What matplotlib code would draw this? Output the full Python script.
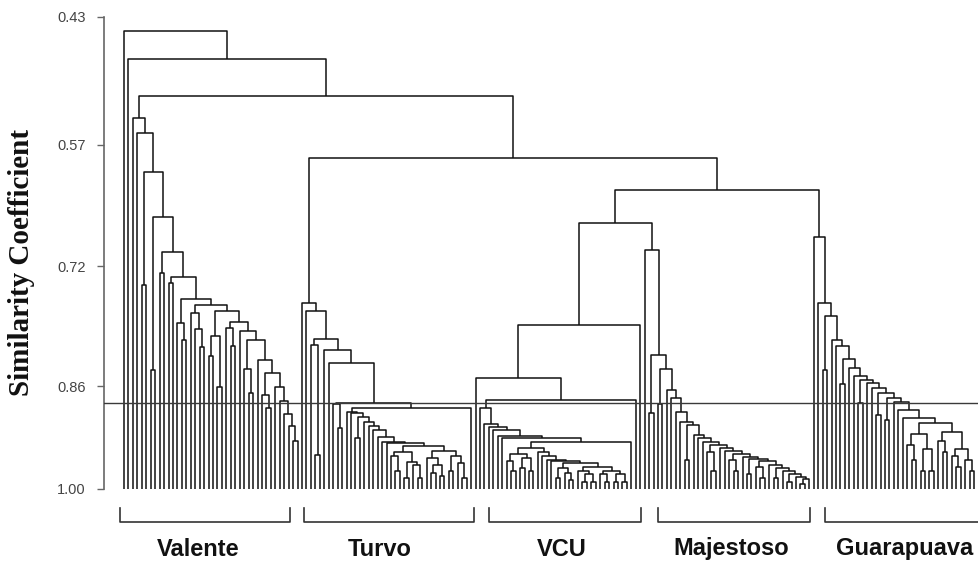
import numpy as np
import matplotlib
matplotlib.use("Agg")
import matplotlib.pyplot as plt
from matplotlib.collections import LineCollection

# ---------------- data ----------------
# Cluster notation ("comb"): a list of (merge_similarity, left_member) tuples
# followed by a final member; each tuple's member joins everything to its right.
# member: 0 = single genotype (leaf), float = two genotypes joined at that
# similarity, list = a sub-cluster written the same way.
VALENTE = [
    (0.540, 0), (0.557, 0), (0.603, 0.742), (0.659, 0.841), (0.703, 0.728),
    (0.733, 0.740),
    (0.758, [(0.787, 0), 0.806]),
    (0.765, [(0.775, 0), (0.794, 0), 0.815]),
    (0.772, [(0.802, 0.825), 0.861]),
    (0.785, [(0.792, 0), 0.813]),
    (0.796, 0),
    (0.806, [(0.840, 0), 0.870]),
    (0.830, 0),
    (0.845, [(0.872, 0), 0.890]),
    (0.862, 0), (0.880, 0), (0.898, 0), (0.915, 0), (0.935, 0),
    0,
]

TURVO_LOW = [
    (0.895, 0), (0.897, 0), (0.902, 0.930), (0.909, 0), (0.914, 0),
    (0.920, 0), (0.929, 0), (0.936, 0), (0.938, 0),
    (0.941, [(0.950, [(0.955, 0), 0.975]), (0.963, 0.985), (0.968, 0), 0.985]),
    [(0.948, [(0.958, 0), (0.968, 0.978), 0.983]), (0.955, 0.975), (0.965, 0), 0.985],
]

TURVO = [
    (0.763, 0), (0.772, 0),
    (0.805, [(0.812, 0), 0.954]),
    (0.818, 0), (0.833, 0),
    (0.883, [(0.885, 0), 0.917]),
    [(0.890, TURVO_LOW), 0],
]

VCU_LOW = [
    (0.944, [(0.952, [(0.962, 0), 0.975]), (0.958, 0.972), 0.975]),
    (0.950, 0), (0.955, 0), (0.960, 0), (0.962, 0),
    (0.965, [(0.972, 0.985), (0.978, 0), 0.988]),
    [(0.970, [(0.975, 0), (0.980, 0.990), 0.990]), (0.975, [(0.980, 0), 0.990]),
     (0.980, 0.990), 0.990],
]

VCU_MAIN = [(0.890, 0), (0.912, 0), (0.916, 0), (0.920, 0), (0.928, 0),
            (0.931, 0), (0.936, VCU_LOW), 0]

VCU = [(0.789, [(0.851, 0), (0.879, VCU_MAIN), 0]), 0]

MAJESTOSO = [
    (0.824, 0.897), (0.840, 0.885), (0.865, 0), (0.876, 0), (0.895, 0),
    (0.909, 0), (0.913, 0.960), (0.927, 0), (0.931, 0), (0.936, 0),
    (0.940, [(0.950, 0), 0.975]),
    (0.944, 0), (0.948, 0),
    (0.952, [(0.960, 0), 0.975]),
    (0.956, 0), (0.959, 0.980),
    (0.962, [(0.970, 0), 0.985]),
    (0.967, 0), (0.972, 0.985), (0.976, 0), (0.980, 0.990), (0.984, 0),
    (0.987, 0.993),
    0,
]

GUARAPUAVA = [
    (0.684, 0), (0.763, 0), (0.778, 0.841), (0.806, 0), (0.813, 0),
    (0.829, 0.858), (0.839, 0), (0.848, 0), (0.853, 0.883), (0.856, 0),
    (0.863, 0), (0.870, 0.899), (0.876, 0.906), (0.882, 0), (0.893, 0),
    (0.903, 0),
    (0.910, [(0.925, [(0.940, 0), 0.960]), (0.945, 0.975), 0.975]),
    [(0.922, [(0.935, 0), 0.950]), (0.945, [(0.955, 0), 0.970]), (0.960, 0), 0.975],
]

TREE = [(0.445, 0), (0.476, 0), (0.516, VALENTE), (0.586, TURVO),
        (0.626, [(0.667, VCU), (0.700, 0), MAJESTOSO]), GUARAPUAVA]

GROUP_NAMES = ["Valente", "Turvo", "VCU", "Majestoso", "Guarapuava"]
GROUP_SPANS = [(-0.9, 37.3), (40.4, 78.7), (82.0, 116.2), (120.0, 154.2), (157.5, 192.3)]
GROUP_LABEL_X = [16.6, 57.5, 98.4, 136.4, 175.5]
Y_TICKS = [0.43, 0.57, 0.72, 0.86, 1.00]
CUTOFF = 0.883
BOTTOM = 1.00

# ---------------- dendrogram layout ----------------
segments = []
counter = [0]


def leaf():
    x = counter[0]
    counter[0] += 1
    return x, BOTTOM


def join(a, b, h):
    (xa, ha), (xb, hb) = a, b
    segments.append([(xa, ha), (xa, h), (xb, h), (xb, hb)])
    return (xa + xb) / 2.0, h


def member(m):
    if isinstance(m, list):
        return comb(m)
    if m == 0:
        return leaf()
    return join(leaf(), leaf(), m)


def comb(c):
    if len(c) == 1:
        return member(c[0])
    h, m = c[0]
    left = member(m)
    right = comb(c[1:])
    return join(left, right, h)


comb(TREE)
n_leaves = counter[0]

# ---------------- figure ----------------
W, H = 979, 562
fig = plt.figure(figsize=(W / 100, H / 100), dpi=100)
ax_left, ax_right, ax_top, ax_bot = 104, 979, 17, 489
ax = fig.add_axes([ax_left / W, 1 - ax_bot / H, (ax_right - ax_left) / W,
                   (ax_bot - ax_top) / H])

# non-uniform axis as printed in the reference
vals = np.array([0.0, 0.43, 0.57, 0.72, 0.86, 1.00, 2.0])
pix = np.array([-430.0, 0.0, 128.0, 249.0, 369.0, 472.0, 1472.0])


def fwd(v):
    return np.interp(v, vals, pix)


def inv(p):
    return np.interp(p, pix, vals)


ax.set_yscale("function", functions=(fwd, inv))
ax.set_ylim(1.00, 0.43)
spacing = 4.45
ax.set_xlim((ax_left - 124) / spacing, (ax_right - 124) / spacing)

lc = LineCollection(segments, colors="#111111", linewidths=1.1, clip_on=False)
ax.add_collection(lc)

ax.axhline(CUTOFF, color="#3a3a3a", lw=1.0, zorder=3)

for s in ["top", "right", "bottom"]:
    ax.spines[s].set_visible(False)
ax.spines["left"].set_color("#666666")
ax.spines["left"].set_linewidth(1.2)
ax.set_xticks([])
ax.set_yticks(Y_TICKS)
ax.set_yticklabels([f"{t:.2f}" for t in Y_TICKS], fontfamily="Liberation Sans",
                   fontsize=10.5, color="#444444")
ax.yaxis.set_minor_locator(matplotlib.ticker.NullLocator())
ax.tick_params(axis="y", direction="out", length=5, width=1.0, color="#666666", pad=8)

fig.text(22 / W, 1 - 263 / H, "Similarity Coefficient", rotation=90,
         ha="center", va="center", fontfamily="Liberation Serif",
         fontweight="bold", fontsize=21, color="#111111")

# group brackets and names
trans = ax.get_xaxis_transform()
yb = (ax_bot - 522) / (ax_bot - ax_top)
yt = (ax_bot - 508) / (ax_bot - ax_top)
ylab = (ax_bot - 549) / (ax_bot - ax_top)
for name, (a, b), lx in zip(GROUP_NAMES, GROUP_SPANS, GROUP_LABEL_X):
    ax.plot([a, a, b, b], [yt, yb, yb, yt], transform=trans, color="#333333",
            lw=1.2, clip_on=False)
    ax.text(lx, ylab, name, transform=trans, ha="center", va="center",
            fontfamily="Liberation Sans", fontweight="bold", fontsize=17,
            color="#111111", clip_on=False)

fig.savefig("out.png", dpi=100, facecolor="white")
print(n_leaves)
